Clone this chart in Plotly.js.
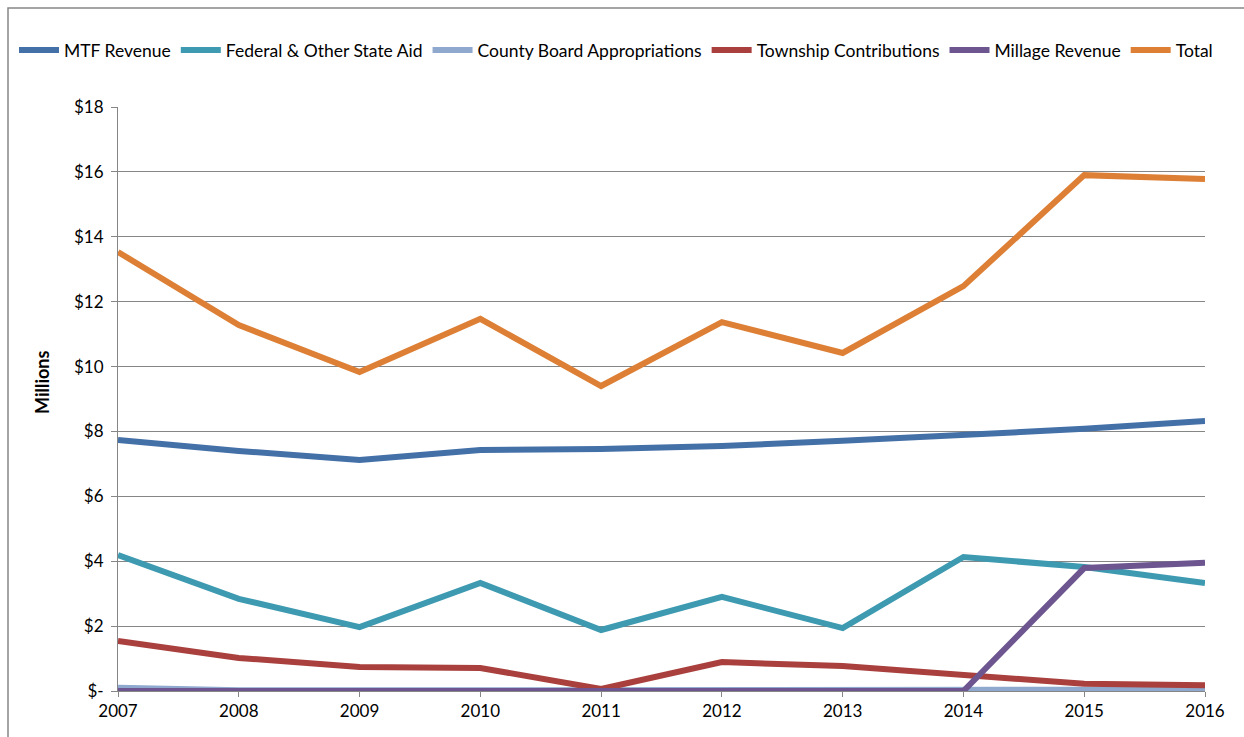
<!DOCTYPE html>
<html>
<head>
<meta charset="utf-8">
<script src="https://cdn.plot.ly/plotly-3.0.1.min.js"></script>
<style>
html,body{margin:0;padding:0;background:#fff;}
#chart{width:1244px;height:737px;}
</style>
</head>
<body>
<div id="chart"></div>
<script>
var years = [2007, 2008, 2009, 2010, 2011, 2012, 2013, 2014, 2015, 2016];
var mtfRevenue = [7.74, 7.40, 7.12, 7.43, 7.46, 7.55, 7.71, 7.89, 8.08, 8.32];
var federalAid = [4.19, 2.84, 1.97, 3.33, 1.88, 2.90, 1.94, 4.13, 3.82, 3.33];
var countyBoard = [0.10, 0.02, 0.02, 0.02, 0.02, 0.02, 0.02, 0.02, 0.03, 0.04];
var township = [1.54, 1.02, 0.74, 0.71, 0.06, 0.89, 0.77, 0.49, 0.22, 0.18];
var millage = [0, 0, 0, 0, 0, 0, 0, 0, 3.79, 3.95];
var total = [13.53, 11.28, 9.83, 11.47, 9.40, 11.37, 10.42, 12.48, 15.90, 15.78];
var yTickVals = [0, 2, 4, 6, 8, 10, 12, 14, 16, 18];
var yTickText = ["$-", "$2", "$4", "$6", "$8", "$10", "$12", "$14", "$16", "$18"];
var yTitle = "Millions";

function tr(name, y, color) {
  return {x: years, y: y, name: name, type: 'scatter', mode: 'lines',
          line: {color: color, width: 6}, hoverinfo: 'x+y+name'};
}
var data = [
  tr('MTF Revenue', mtfRevenue, '#4470A8'),
  tr('Federal & Other State Aid', federalAid, '#3D9AB0'),
  tr('County Board Appropriations', countyBoard, '#8EA8CE'),
  tr('Township Contributions', township, '#A9403D'),
  tr('Millage Revenue', millage, '#6D5690'),
  tr('Total', total, '#DD7F35')
];
var fam = 'Lato, "Open Sans", sans-serif';
var tickFont = {family: fam, size: 17, color: '#000'};
var plotH = 737 - 107 - 46;
var plotW = 1244 - 118 - 39;
var layout = {
  width: 1244, height: 737,
  margin: {l: 118, r: 39, t: 107, b: 46},
  paper_bgcolor: '#fff', plot_bgcolor: '#fff',
  font: tickFont,
  showlegend: true,
  legend: {orientation: 'h', x: (14 - 118) / plotW, xanchor: 'left',
           y: (737 - 46 - 50) / plotH, yref: 'paper', yanchor: 'middle',
           font: {family: fam, size: 17.5, color: '#000'}, itemwidth: 40,
           bgcolor: 'rgba(0,0,0,0)'},
  xaxis: {
    type: 'linear', range: [2007, 2016], tickvals: years, ticktext: years.map(String),
    showgrid: false, zeroline: false, showline: true, linecolor: '#868686', linewidth: 1,
    ticks: 'outside', ticklen: 5, tickcolor: '#868686', tickfont: tickFont
  },
  yaxis: {
    range: [0, 18], tickvals: yTickVals, ticktext: yTickText,
    showgrid: true, gridcolor: '#868686', gridwidth: 1, zeroline: false,
    showline: true, linecolor: '#868686', linewidth: 1,
    ticks: 'outside', ticklen: 6, tickcolor: '#868686', ticklabelstandoff: 4,
    tickfont: tickFont
  },
  annotations: [{text: yTitle, textangle: -90, xref: 'paper', yref: 'paper',
                 x: (42 - 118) / plotW, y: (737 - 46 - 383) / plotH, xanchor: 'center', yanchor: 'middle',
                 showarrow: false, font: {family: fam, size: 18, color: '#000', weight: 'bold'}}],
  shapes: [{type: 'rect', xref: 'paper', yref: 'paper', x0: (8 - 118) / plotW, x1: 1.2, y0: -0.2,
            y1: (737 - 46 - 8) / plotH,
            line: {color: '#868686', width: 1.5}, fillcolor: 'rgba(0,0,0,0)', layer: 'below'}]
};
Plotly.newPlot('chart', data, layout, {displayModeBar: false, staticPlot: true});
</script>
</body>
</html>
